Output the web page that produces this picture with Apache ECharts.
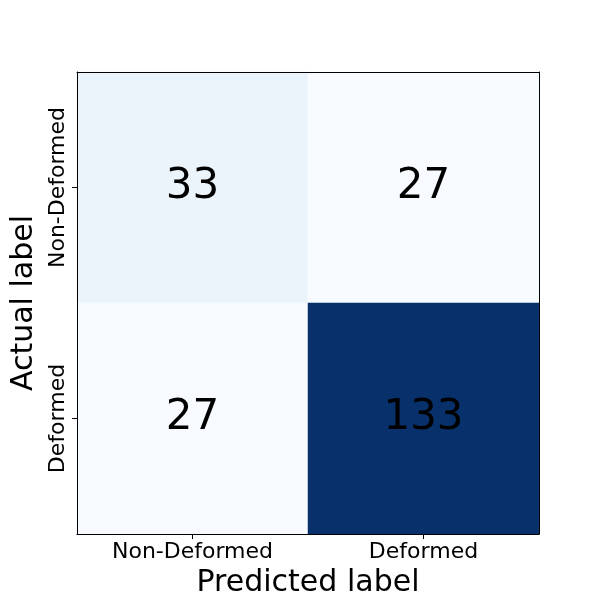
<!DOCTYPE html>
<html><head><meta charset="utf-8">
<script src="https://cdn.jsdelivr.net/npm/echarts@6/dist/echarts.min.js"></script>
<style>html,body{margin:0;padding:0;background:#fff}#c{width:600px;height:600px}</style>
</head><body><div id="c"></div>
<script>
const predictedLabels = ['Non-Deformed', 'Deformed'];
const actualLabels = ['Non-Deformed', 'Deformed'];
const row0 = [33, 27];
const row1 = [27, 133];
const matrix = [row0, row1];
const blues = ['#f7fbff','#deebf7','#c6dbef','#9ecae1','#6baed6','#4292c6','#2171b5','#08519c','#08306b'];

const data = [];
matrix.forEach((row, yi) => row.forEach((v, xi) => data.push([xi, yi, v])));
const vals = data.map(d => d[2]);
const F = 'DejaVu Sans';

const chart = echarts.init(document.getElementById('c'));
chart.setOption({
  animation: false,
  textStyle: { fontFamily: F },
  grid: { left: 77, top: 72, width: 462, height: 462, containLabel: false, outerBoundsMode: 'none' },
  visualMap: { show: false, min: Math.min(...vals), max: Math.max(...vals), dimension: 2, inRange: { color: blues } },
  xAxis: [{
    type: 'category', data: predictedLabels, position: 'bottom', z: 10,
    name: 'Predicted label', nameLocation: 'middle', nameGap: 32,
    nameTextStyle: { fontSize: 30, color: '#000', fontFamily: F },
    axisLine: { show: true, lineStyle: { color: '#000', width: 1 } },
    axisTick: { show: true, alignWithLabel: true, length: 5, lineStyle: { color: '#000' } },
    axisLabel: { fontSize: 22, color: '#000', margin: 7, fontFamily: F },
    splitLine: { show: false }
  }, {
    type: 'category', data: predictedLabels, position: 'top', z: 10,
    axisLine: { show: true, lineStyle: { color: '#000', width: 1 } },
    axisTick: { show: false }, axisLabel: { show: false }
  }],
  yAxis: [{
    type: 'category', data: actualLabels, inverse: true, position: 'left', z: 10,
    name: 'Actual label', nameLocation: 'middle', nameGap: 32, nameRotate: 90,
    nameTextStyle: { fontSize: 30, color: '#000', fontFamily: F },
    axisLine: { show: true, lineStyle: { color: '#000', width: 1 } },
    axisTick: { show: true, alignWithLabel: true, length: 5, lineStyle: { color: '#000' } },
    axisLabel: { fontSize: 22, color: '#000', rotate: 90, margin: 8, fontFamily: F },
    splitLine: { show: false }
  }, {
    type: 'category', data: actualLabels, inverse: true, position: 'right', z: 10,
    axisLine: { show: true, lineStyle: { color: '#000', width: 1 } },
    axisTick: { show: false }, axisLabel: { show: false }
  }],
  series: [{
    type: 'heatmap', data: data, xAxisIndex: 0, yAxisIndex: 0,
    label: { show: true, fontSize: 42, color: '#000', fontFamily: F },
    itemStyle: { borderWidth: 0 },
    emphasis: { disabled: true }
  }]
});
</script></body></html>
